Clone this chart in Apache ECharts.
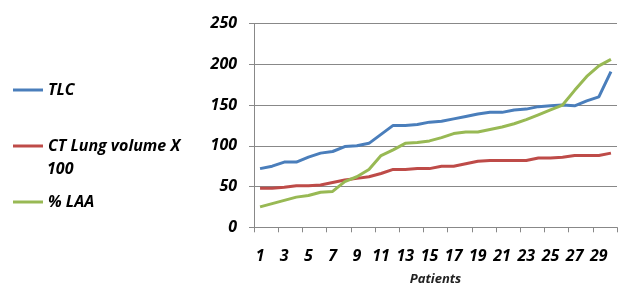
<!DOCTYPE html>
<html>
<head>
<meta charset="utf-8">
<script src="https://cdn.jsdelivr.net/npm/echarts@6/dist/echarts.min.js"></script>
<style>
  html, body { margin: 0; padding: 0; background: #fff; }
  #chart { width: 620px; height: 285px; }
</style>
</head>
<body>
<div id="chart"></div>
<script>
// patients 1..30
var patients = [];
for (var i = 1; i <= 30; i++) patients.push(String(i));

var tlc = [72, 75, 80, 80, 86, 91, 93, 99, 100, 103, 114, 125, 125, 126, 129, 130, 133, 136, 139, 141,
           141, 144, 145, 148, 149, 150, 149, 155, 160, 191];
var ctLung = [48, 48, 49, 51, 51, 52, 55, 58, 60, 62, 66, 71, 71, 72, 72, 75, 75, 78, 81, 82,
              82, 82, 82, 85, 85, 86, 88, 88, 88, 91];
var laa = [25, 29, 33, 37, 39, 43, 44, 56, 62, 71, 88, 95, 103, 104, 106, 110, 115, 117, 117, 120,
           123, 127, 132, 138, 144, 150, 168, 185, 198, 206];

var seriesNames = ['TLC', 'CT Lung volume X 100', '% LAA'];

var chart = echarts.init(document.getElementById('chart'));

var lblFont = {
    fontFamily: 'Open Sans',
    fontWeight: 'bold',
    fontStyle: 'italic',
    fontSize: 16,
    color: '#000'
};

function mkLine(name, data, color) {
    return {
        name: name,
        type: 'line',
        data: data,
        symbol: 'none',
        color: color,
        lineStyle: { width: 3, color: color },
        animation: false
    };
}

var option = {
    animation: false,
    grid: { left: 254, right: 3, top: 23.5, bottom: 57.7, outerBoundsMode: 'none' },
    legend: {
        orient: 'vertical',
        left: 13,
        top: 82,
        padding: 0,
        itemGap: 40,
        itemWidth: 30,
        itemHeight: 3,
        icon: 'rect',
        data: seriesNames,
        formatter: function (n) {
            return n === 'CT Lung volume X 100' ? 'CT Lung volume X' : n;
        },
        textStyle: lblFont
    },
    graphic: [{
        type: 'text',
        left: 47,
        top: 161,
        style: {
            text: '100',
            font: 'italic bold 16px "Open Sans"',
            fill: '#000'
        }
    }],
    xAxis: {
        type: 'category',
        data: patients,
        boundaryGap: true,
        name: 'Patients',
        nameLocation: 'middle',
        nameGap: 45,
        nameTextStyle: {
            fontFamily: 'Open Sans',
            fontStyle: 'italic',
            fontWeight: 'bold',
            fontSize: 13,
            color: '#222'
        },
        axisLine: { lineStyle: { color: '#888' } },
        axisTick: { show: true, length: 5, lineStyle: { color: '#888' } },
        axisLabel: Object.assign({ interval: 1, margin: 21 }, lblFont),
        splitLine: { show: false }
    },
    yAxis: {
        type: 'value',
        min: 0,
        max: 250,
        interval: 50,
        axisLine: { show: true, lineStyle: { color: '#888' } },
        axisTick: { show: true, length: 5, lineStyle: { color: '#888' } },
        axisLabel: Object.assign({ margin: 17 }, lblFont),
        splitLine: { lineStyle: { color: '#888', width: 1 } }
    },
    series: [
        mkLine(seriesNames[0], tlc, '#4a7ebb'),
        mkLine(seriesNames[1], ctLung, '#be4b48'),
        mkLine(seriesNames[2], laa, '#98b954')
    ]
};

chart.setOption(option);
</script>
</body>
</html>
